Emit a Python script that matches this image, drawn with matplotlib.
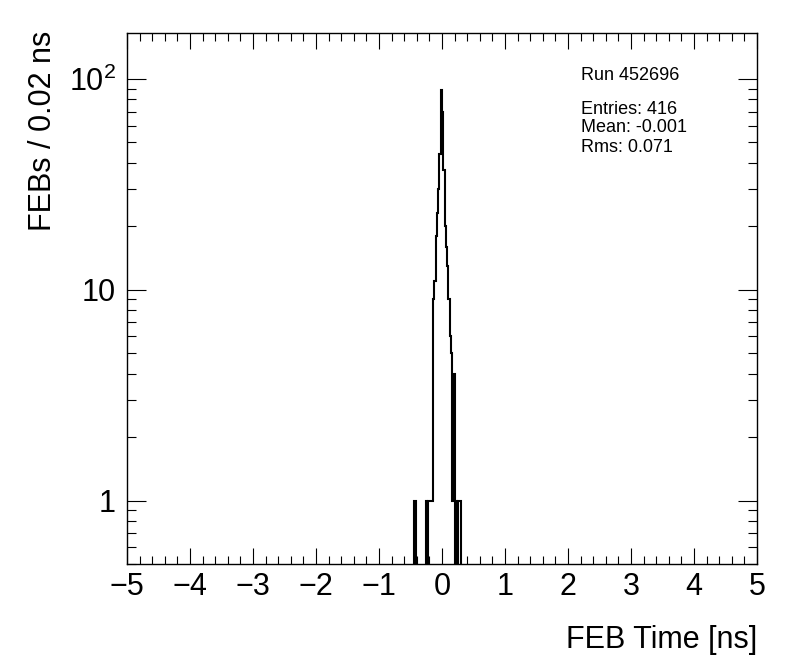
import numpy as np
import matplotlib
matplotlib.use('Agg')
import matplotlib.pyplot as plt
from matplotlib.ticker import MultipleLocator, LogLocator, FixedLocator, FixedFormatter, NullFormatter

plt.rcParams['font.family'] = ['Liberation Sans', 'DejaVu Sans']
plt.rcParams['mathtext.fontset'] = 'custom'
plt.rcParams['mathtext.rm'] = 'Liberation Sans'
plt.rcParams['mathtext.it'] = 'Liberation Sans'

# histogram: FEB time, 0.02 ns bins, first listed bin starts at -0.44 ns
bin_width = 0.02
first_edge = -0.44
counts = [1, 0, 0, 0, 0, 0, 0, 0, 0, 1, 0, 1, 1, 1, 1,
          9, 11, 18, 23, 30, 44, 89,
          70, 37, 20, 16, 13, 9, 6, 5,
          1, 4, 0, 1, 0, 1, 1]
run_text = 'Run 452696'
stats_lines = ['Entries: 416', 'Mean: -0.001', 'Rms: 0.071']
y_ticks = [1, 10, 100]
y_tick_labels = ['1', '10', r'$10^{2}$']

counts = np.array(counts, dtype=float)
edges = first_edge + bin_width * np.arange(len(counts) + 1)
# zero bins sit below the frame, like ROOT does on a log axis
vals = np.where(counts > 0, counts, 1e-3)

fig = plt.figure(figsize=(7.96, 6.72), dpi=100)
ax = fig.add_axes([127/796, (672-564)/672, (757-127)/796, (564-33)/672])

ax.stairs(vals, edges, baseline=1e-3, color='black', lw=1.5)

ax.set_xlim(-5, 5)
ax.set_yscale('log')
ax.set_ylim(0.5, 165)

ax.xaxis.set_major_locator(MultipleLocator(1))
ax.xaxis.set_minor_locator(MultipleLocator(0.2))
ax.yaxis.set_major_locator(FixedLocator(y_ticks))
ax.yaxis.set_major_formatter(FixedFormatter(y_tick_labels))
ax.yaxis.set_minor_locator(LogLocator(base=10, subs=np.arange(2, 10) * 0.1))
ax.yaxis.set_minor_formatter(NullFormatter())

ax.tick_params(axis='both', which='both', direction='in', top=True, right=True,
               labelsize=22, width=0.8)
ax.tick_params(axis='x', which='major', length=11.5, pad=6)
ax.tick_params(axis='x', which='minor', length=5.8)
ax.tick_params(axis='y', which='major', length=13.6, pad=8)
ax.tick_params(axis='y', which='minor', length=6.8)
for sp in ax.spines.values():
    sp.set_linewidth(1.0)

ax.set_xlabel('FEB Time [ns]', fontsize=22, ha='right')
ax.xaxis.set_label_coords(1.0, -0.115)
ax.set_ylabel('FEBs / 0.02 ns', fontsize=22, ha='right')
ax.yaxis.set_label_coords(-0.11, 1.005)

fig.text(581/796, 1 - 75/672, run_text, fontsize=13, ha='left', va='center')
for i, line in enumerate(stats_lines):
    fig.text(581/796, 1 - (109 + 19 * i)/672, line, fontsize=13, ha='left', va='center')

fig.savefig('out.png', dpi=100)
